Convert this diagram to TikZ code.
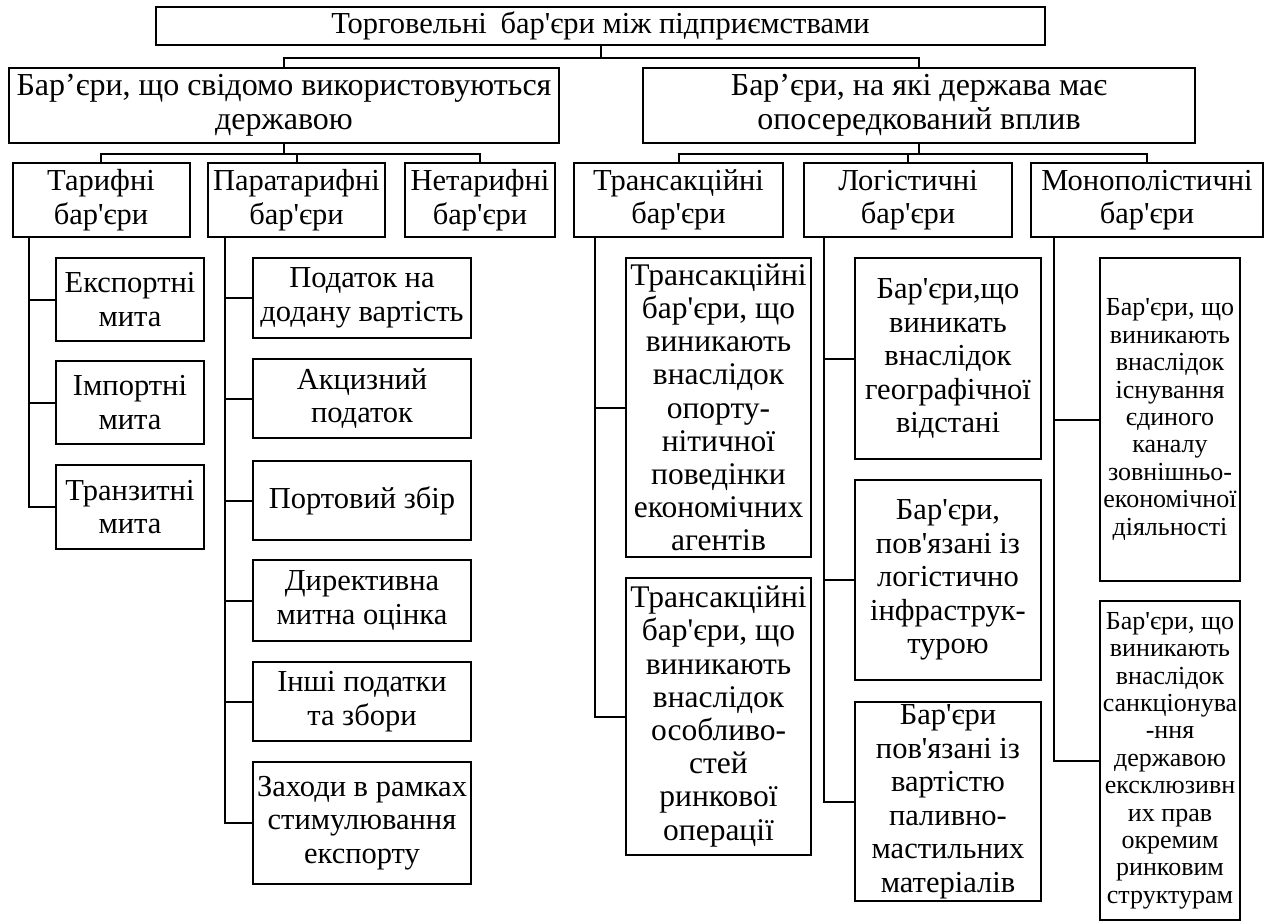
\documentclass[tikz,border=0pt]{standalone}
\usepackage{fontspec}
\setmainfont{Liberation Serif}[Ligatures=TeXOff]
\begin{document}
\begin{tikzpicture}[x=1pt,y=-1pt,
  box/.style={draw, line width=2pt, align=center, inner sep=0pt, font=\fontsize{30.5}{33.5}\selectfont},
  bigbox/.style={box, font=\fontsize{32}{34}\selectfont},
  tbox/.style={box, font=\fontsize{31.5}{33.2}\selectfont},
  sbox/.style={box, font=\fontsize{26}{27.4}\selectfont},
  link/.style={line width=2pt}]
\useasboundingbox (0,0) rectangle (1264,922);
% level 0
\node[box, minimum width=889pt, minimum height=38pt] (top) at (600.5,26) {Торговельні\hspace{0.45em}бар'єри між підприємствами};
% level 1
\node[bigbox, minimum width=550pt, minimum height=75pt] (la) at (284,105.5) {Бар’єри, що свідомо використовуються\\державою};
\node[bigbox, minimum width=552pt, minimum height=75pt] (lb) at (919,105.5) {Бар’єри, на які держава має\\опосередкований вплив};
% level 2
\node[box, minimum width=177pt, minimum height=74pt] (tar) at (101,200) {Тарифні\\бар'єри};
\node[box, minimum width=177pt, minimum height=74pt] (para) at (296.5,200) {Паратарифні\\бар'єри};
\node[box, minimum width=150pt, minimum height=74pt] (net) at (480,200) {Нетарифні\\бар'єри};
\node[box, minimum width=209pt, minimum height=74pt] (tra) at (678.5,200) {Трансакційні\\бар'єри};
\node[box, minimum width=208pt, minimum height=74pt] (log) at (908,200) {Логістичні\\бар'єри};
\node[box, minimum width=232pt, minimum height=74pt] (mon) at (1147,200) {Монополістичні\\бар'єри};
% tariff children
\node[box, minimum width=148pt, minimum height=83pt] (e1) at (130,299.5) {Експортні\\мита};
\node[box, minimum width=148pt, minimum height=83pt] (e2) at (130,402.5) {Імпортні\\мита};
\node[box, minimum width=148pt, minimum height=84pt] (e3) at (130,507) {Транзитні\\мита};
% paratariff children
\node[box, minimum width=218pt, minimum height=80pt] (p1) at (362,298) {Податок на\\додану вартість};
\node[box, minimum width=218pt, minimum height=79pt] (p2) at (362,398.5) {Акцизний\\податок};
\node[box, minimum width=218pt, minimum height=79pt] (p3) at (362,500.5) {Портовий збір};
\node[box, minimum width=218pt, minimum height=81pt] (p4) at (362,600.5) {Директивна\\митна оцінка};
\node[box, minimum width=218pt, minimum height=79pt] (p5) at (362,701.5) {Інші податки\\та збори};
\node[box, minimum width=218pt, minimum height=122pt] (p6) at (362,823) {Заходи в рамках\\стимулювання\\експорту};
% transaction children
\node[tbox, minimum width=185pt, minimum height=299pt] (t1) at (718.5,407.5) {Трансакційні\\бар'єри, що\\виникають\\внаслідок\\опорту-\\нітичної\\поведінки\\економічних\\агентів};
\node[tbox, minimum width=185pt, minimum height=277pt] (t2) at (718.5,716.5) {Трансакційні\\бар'єри, що\\виникають\\внаслідок\\особливо-\\стей\\ринкової\\операції};
% logistic children
\node[box, minimum width=186pt, minimum height=201pt] (g1) at (948,358.5) {Бар'єри,що\\виникать\\внаслідок\\географічної\\відстані};
\node[box, minimum width=186pt, minimum height=200pt] (g2) at (948,580) {Бар'єри,\\пов'язані із\\логістично\\інфраструк-\\турою};
\node[box, minimum width=186pt, minimum height=199pt] (g3) at (948,801.5) {Бар'єри\\пов'язані із\\вартістю\\паливно-\\мастильних\\матеріалів};
% monopoly children
\node[sbox, minimum width=140pt, minimum height=323pt] (m1) at (1170,419.5) {Бар'єри, що\\виникають\\внаслідок\\існування\\єдиного\\каналу\\зовнішньо-\\економічної\\діяльності};
\node[sbox, minimum width=140pt, minimum height=319pt] (m2) at (1170,760.5) {Бар'єри, що\\виникають\\внаслідок\\санкціонува\\-ння\\державою\\ексклюзивн\\их прав\\окремим\\ринковим\\структурам};
% connectors level 0 -> 1
\draw[link] (top.south) -- ++(0,12) coordinate (j0);
\draw[link] (j0) -| (la.north);
\draw[link] (j0) -| (lb.north);
% level 1 -> 2
\draw[link] (la.south) -- ++(0,10) coordinate (j1);
\draw[link] (j1) -| (tar.north);
\draw[link] (j1) -| (para.north);
\draw[link] (j1) -| (net.north);
\draw[link] (lb.south) -- ++(0,10) coordinate (j2);
\draw[link] (j2) -| (tra.north);
\draw[link] (j2) -| (log.north);
\draw[link] (j2) -| (mon.north);
% spines
\foreach \c in {e1,e2,e3} \draw[link] ([xshift=17.5pt]tar.south west) |- (\c.west);
\foreach \c in {p1,p2,p3,p4,p5,p6} \draw[link] ([xshift=18pt]para.south west) |- (\c.west);
\foreach \c in {t1,t2} \draw[link] ([xshift=22pt]tra.south west) |- (\c.west);
\foreach \c in {g1,g2,g3} \draw[link] ([xshift=21pt]log.south west) |- (\c.west);
\foreach \c in {m1,m2} \draw[link] ([xshift=24pt]mon.south west) |- (\c.west);
\end{tikzpicture}
\end{document}
